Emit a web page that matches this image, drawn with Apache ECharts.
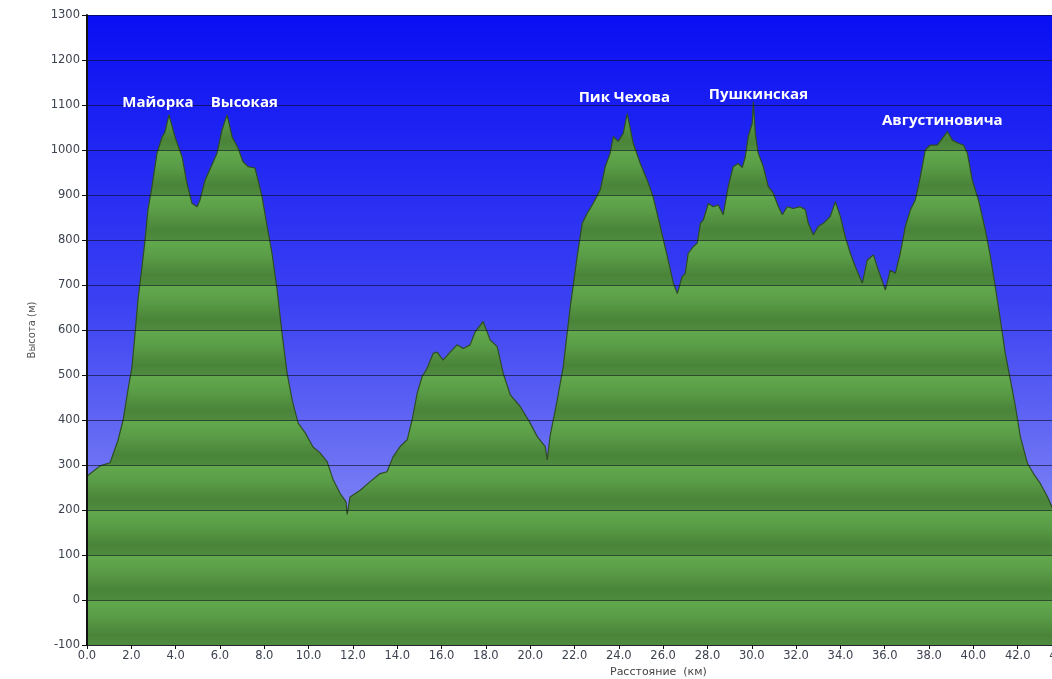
<!DOCTYPE html>
<html>
<head>
<meta charset="utf-8">
<script src="https://cdn.jsdelivr.net/npm/echarts@6/dist/echarts.min.js"></script>
<style>
html,body{margin:0;padding:0;background:#fff;}
#chart{width:1052px;height:679px;}
</style>
</head>
<body>
<div id="chart"></div>
<script>
// Distance along the route (km)
const distanceKm = [
  0.00, 0.59, 1.04, 1.40, 1.63, 1.85, 2.03, 2.17, 2.30, 2.48, 2.62, 2.75, 2.93, 3.16, 3.39, 3.52, 3.70, 3.97,
  4.29, 4.51, 4.74, 4.97, 5.10, 5.33, 5.64, 5.87, 6.09, 6.32, 6.55, 6.82, 7.04, 7.27, 7.58, 7.72, 7.90, 8.13,
  8.35, 8.58, 8.80, 9.03, 9.26, 9.53, 9.84, 10.20, 10.52, 10.84, 11.11, 11.42, 11.69, 11.74, 11.87, 12.33,
  12.78, 13.23, 13.54, 13.81, 14.13, 14.45, 14.67, 14.90, 15.12, 15.35, 15.62, 15.80, 16.07, 16.39, 16.70,
  16.98, 17.29, 17.52, 17.88, 18.19, 18.51, 18.65, 18.78, 19.10, 19.55, 20.00, 20.32, 20.68, 20.77, 20.90,
  21.22, 21.49, 21.81, 22.12, 22.35, 22.57, 22.84, 23.16, 23.39, 23.61, 23.75, 23.97, 24.20, 24.38, 24.65,
  24.97, 25.28, 25.55, 25.87, 26.19, 26.46, 26.64, 26.86, 27.00, 27.13, 27.36, 27.54, 27.68, 27.81, 28.04,
  28.26, 28.49, 28.71, 28.94, 29.16, 29.39, 29.57, 29.71, 29.84, 30.02, 30.07, 30.16, 30.29, 30.52, 30.74,
  30.97, 31.20, 31.38, 31.60, 31.87, 32.19, 32.42, 32.55, 32.78, 33.00, 33.23, 33.54, 33.77, 34.00, 34.22,
  34.45, 34.67, 34.99, 35.21, 35.49, 35.71, 36.03, 36.25, 36.48, 36.70, 36.93, 37.16, 37.38, 37.61, 37.83,
  38.06, 38.37, 38.60, 38.83, 39.05, 39.32, 39.55, 39.73, 39.95, 40.23, 40.54, 40.77, 40.99, 41.22, 41.44,
  41.67, 41.90, 42.12, 42.44, 42.71, 43.02, 43.34, 43.57, 44.00
];
// Elevation (m)
const elevationM = [
  275, 298, 305, 355, 400, 467, 518, 593, 667, 740, 800, 867, 918, 993, 1029, 1040, 1078, 1029,
  985, 926, 881, 874, 889, 933, 967, 993, 1044, 1078, 1029, 1004, 974, 963, 960, 933, 896, 830,
  770, 689, 593, 504, 444, 393, 372, 340, 327, 307, 267, 237, 218, 190, 229, 244,
  263, 281, 285, 318, 341, 356, 400, 459, 496, 515, 548, 551, 533, 551, 567,
  559, 567, 596, 619, 578, 563, 533, 504, 456, 430, 393, 363, 341, 311, 365,
  444, 518, 652, 763, 837, 859, 881, 911, 963, 993, 1030, 1019, 1037, 1081, 1015,
  970, 933, 896, 830, 763, 704, 681, 719, 726, 770, 785, 793, 837, 844, 881,
  874, 878, 856, 919, 963, 970, 961, 985, 1030, 1059, 1107, 1037, 993, 963, 919,
  904, 874, 856, 874, 870, 874, 867, 837, 811, 830, 837, 852, 885, 852, 807,
  770, 741, 704, 755, 767, 733, 689, 733, 726, 770, 830, 867, 889, 941, 1000,
  1011, 1011, 1026, 1041, 1022, 1015, 1011, 993, 933, 889, 822, 763, 696, 622, 548,
  489, 430, 363, 304, 281, 259, 230, 204, 190
];
// Peak names and where their labels sit (km, m)
const peakNames = ['Майорка', 'Высокая', 'Пик Чехова', 'Пушкинская', 'Августиновича'];
const peakLabelKm = [3.2, 7.1, 24.25, 30.3, 38.6];
const peakLabelElev = [1104, 1104, 1117, 1122, 1064];

const xAxisName = 'Расстояние  (км)';
const yAxisName = 'Высота (м)';

const profile = distanceKm.map((d, i) => [d, elevationM[i]]);

// banded green fill (global pixel gradient across plot height)
const plotTop = 15, plotBottom = 645, bands = 14;
const stops = [];
for (let i = 0; i < bands; i++) {
  const s = i / bands, w = 1 / bands;
  stops.push({offset: s + 0.0005, color: '#62a94c'});
  stops.push({offset: s + w * 0.35, color: '#5a9d47'});
  stops.push({offset: s + w * 0.78, color: '#4a8439'});
  stops.push({offset: s + w * 0.999, color: '#4f8b3e'});
}

const chart = echarts.init(document.getElementById('chart'));
chart.setOption({
  animation: false,
  backgroundColor: '#ffffff',
  grid: {
    left: 87, top: plotTop, bottom: 679 - plotBottom, right: -10,
    outerBoundsMode: 'none', containLabel: false,
    show: true, borderWidth: 0,
    backgroundColor: {
      type: 'linear', x: 0, y: 0, x2: 0, y2: 1,
      colorStops: [
        {offset: 0, color: '#0a0ff3'},
        {offset: 0.45, color: '#3a40f2'},
        {offset: 0.75, color: '#7479f4'},
        {offset: 1, color: '#a3a6f8'}
      ]
    }
  },
  graphic: [{
    type: 'text', left: 610, top: 667,
    style: {text: xAxisName, font: '11px "DejaVu Sans"', fill: '#444'}
  }],
  xAxis: {
    type: 'value', min: 0, max: 44, interval: 2,
    axisLine: {show: true, onZero: false, lineStyle: {color: '#111', width: 1.5}},
    axisTick: {show: true, length: 4, lineStyle: {color: '#111'}},
    axisLabel: {
      color: '#3d4250', fontFamily: 'DejaVu Sans', fontSize: 11.5, margin: 5,
      formatter: v => v.toFixed(1)
    },
    splitLine: {show: false}
  },
  yAxis: {
    type: 'value', min: -100, max: 1300, interval: 100, z: 5,
    name: yAxisName, nameLocation: 'middle', nameGap: 50,
    nameTextStyle: {color: '#555', fontFamily: 'DejaVu Sans', fontSize: 10},
    axisLine: {show: true, lineStyle: {color: '#111', width: 2}},
    axisTick: {show: true, length: 5, lineStyle: {color: '#111'}},
    axisLabel: {color: '#3d4250', fontFamily: 'DejaVu Sans', fontSize: 11.5, margin: 7,
      formatter: v => String(v)},
    splitLine: {show: true, lineStyle: {color: 'rgba(10,10,30,0.6)', width: 1}}
  },
  series: [{
    type: 'line',
    data: profile,
    showSymbol: false,
    symbol: 'none',
    z: 2,
    lineStyle: {color: '#2f4d24', width: 1.2},
    areaStyle: {
      origin: 'start', opacity: 1,
      color: {type: 'linear', x: 0, y: plotTop, x2: 0, y2: plotBottom, global: true, colorStops: stops}
    },
    markPoint: {
      symbol: 'circle', symbolSize: 0, silent: true,
      label: {
        show: true, position: 'inside', color: '#ffffff',
        fontFamily: 'Open Sans', fontWeight: 'bold', fontSize: 15,
        formatter: p => p.name
      },
      data: peakNames.map((n, i) => ({name: n, coord: [peakLabelKm[i], peakLabelElev[i]]}))
    }
  }]
});
</script>
</body>
</html>
